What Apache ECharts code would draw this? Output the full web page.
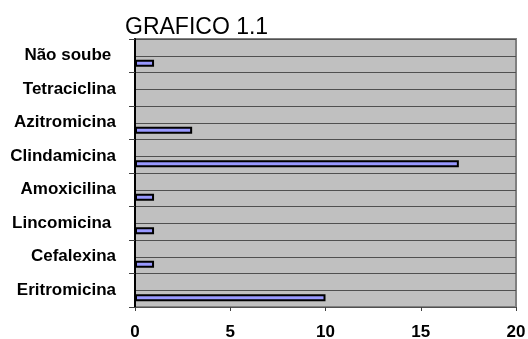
<!DOCTYPE html>
<html>
<head>
<meta charset="utf-8">
<script src="https://cdn.jsdelivr.net/npm/echarts@6/dist/echarts.min.js"></script>
<style>
  html, body { margin: 0; padding: 0; background: #ffffff; }
  #chart { width: 528px; height: 339px; }
</style>
</head>
<body>
<div id="chart"></div>
<script>
// Antibiotics, listed bottom to top
const categories = ['Eritromicina', 'Cefalexina', 'Lincomicina ', 'Amoxicilina', 'Clindamicina', 'Azitromicina', 'Tetraciclina', 'Não soube '];
const counts = [10, 1, 1, 1, 17, 3, 0, 1];
const xTicks = { min: 0, max: 20, step: 5 };
const titleText = 'GRAFICO 1.1';

// half-band rows for the finer horizontal rules
const halfRows = [];
categories.forEach(function (c, i) { halfRows.push(i + 'a', i + 'b'); });

const chart = echarts.init(document.getElementById('chart'), null, { renderer: 'canvas' });
const font = 'Liberation Sans, Arial, sans-serif';

chart.setOption({
  animation: false,
  title: {
    text: titleText,
    left: 120,
    top: 11,
    textStyle: { fontFamily: font, fontSize: 23, fontWeight: 'normal', color: '#000' }
  },
  grid: {
    left: 135, right: 12, top: 39, bottom: 32,
    outerBoundsMode: 'none',
    containLabel: false,
    show: true,
    backgroundColor: '#c0c0c0',
    borderColor: '#808080',
    borderWidth: 2
  },
  xAxis: {
    type: 'value',
    min: xTicks.min, max: xTicks.max, interval: xTicks.step,
    axisLine: { show: false },
    axisTick: { show: true, length: 4, lineStyle: { color: '#404040', width: 1 } },
    splitLine: { show: false },
    axisLabel: { margin: 17, fontFamily: font, fontSize: 17, fontWeight: 'bold', color: '#000' }
  },
  yAxis: [{
    type: 'category',
    data: categories,
    axisLine: { show: true, lineStyle: { color: '#000', width: 2 } },
    axisTick: { show: true, length: 6, lineStyle: { color: '#404040', width: 1 } },
    splitLine: { show: true, lineStyle: { color: '#505050', width: 1 } },
    axisLabel: { margin: 19, fontFamily: font, fontSize: 17, fontWeight: 'bold', color: '#000' }
  }, {
    type: 'category',
    data: halfRows,
    position: 'left',
    axisLine: { show: false },
    axisTick: { show: false },
    axisLabel: { show: false },
    splitLine: { show: true, lineStyle: { color: '#505050', width: 1 } }
  }],
  series: [{
    // empty companion slot above each bar
    type: 'bar',
    yAxisIndex: 0,
    data: categories.map(function () { return null; }),
    barWidth: 7,
    barGap: '115%',
    itemStyle: { color: '#9999ff' }
  }, {
    type: 'bar',
    yAxisIndex: 0,
    data: counts,
    barWidth: 7,
    barGap: '115%',
    itemStyle: { color: '#9999ff', borderColor: '#000', borderWidth: 2 }
  }]
});
</script>
</body>
</html>
